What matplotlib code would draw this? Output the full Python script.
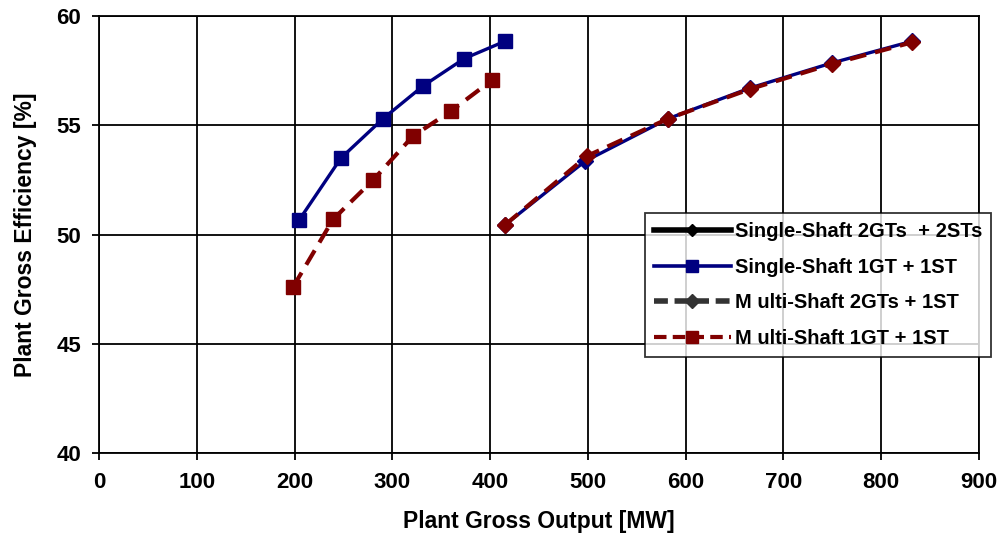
import matplotlib.pyplot as plt
from matplotlib.lines import Line2D
import numpy as np

plt.rcParams['font.family'] = ['Liberation Sans', 'DejaVu Sans']
plt.rcParams['font.weight'] = 'bold'

# plant output [MW] / gross efficiency [%]
ss_1gt_x = [204.5, 247.5, 290.5, 331.5, 373.5, 415.5]
ss_1gt_y = [50.65, 53.5, 55.3, 56.8, 58.05, 58.85]
ms_1gt_x = [198.5, 239.5, 280.5, 321.0, 360.0, 401.5]
ms_1gt_y = [47.6, 50.7, 52.5, 54.5, 55.65, 57.05]
ss_2gt_x = [415.5, 497.0, 582.0, 665.5, 749.5, 832.0]
ss_2gt_y = [50.45, 53.35, 55.3, 56.7, 57.85, 58.85]
ms_2gt_x = [415.5, 499.5, 582.0, 665.5, 749.5, 832.0]
ms_2gt_y = [50.45, 53.6, 55.3, 56.65, 57.8, 58.8]

labels = ['Single-Shaft 2GTs  + 2STs', 'Single-Shaft 1GT + 1ST',
          'M ulti-Shaft 2GTs + 1ST', 'M ulti-Shaft 1GT + 1ST']
xticks = np.arange(0, 901, 100)
yticks = np.arange(40, 61, 5)

navy = '#000080'
maroon = '#800000'

fig = plt.figure(figsize=(10.02, 5.33), dpi=100)
ax = fig.add_axes([0.0988, 0.150, 0.8782, 0.820])

ax.plot(ss_1gt_x, ss_1gt_y, color=navy, lw=2.4, marker='s', ms=9.4,
        mfc=navy, mec=navy, zorder=3)
ax.plot(ms_1gt_x, ms_1gt_y, color=maroon, lw=3.0, ls=(0, (4, 2.2)),
        marker='s', ms=9.4, mfc=maroon, mec=maroon, zorder=4)
ax.plot(ss_2gt_x, ss_2gt_y, color=navy, lw=2.4, marker='D', ms=8.6,
        mfc=navy, mec=navy, zorder=3)
ax.plot(ms_2gt_x, ms_2gt_y, color=maroon, lw=3.0, ls=(0, (4, 2.2)),
        marker='D', ms=8.2, mfc=maroon, mec=maroon, zorder=4)

ax.set_xlim(0, 900)
ax.set_ylim(40, 60)
ax.set_xticks(xticks)
ax.set_yticks(yticks)
ax.grid(True, color='black', lw=1.3)
ax.set_axisbelow(True)
for s in ax.spines.values():
    s.set_linewidth(1.3)
ax.tick_params(axis='both', length=5, width=1.3, labelsize=16)
ax.tick_params(axis='x', pad=9)
ax.tick_params(axis='y', pad=8)
ax.set_xlabel('Plant Gross Output [MW]', fontsize=16.5, fontweight='bold', labelpad=12)
ax.set_ylabel('Plant Gross Efficiency [%]', fontsize=16.5, fontweight='bold', labelpad=14)

handles = [
    Line2D([], [], color='black', lw=4, marker='D', ms=6, mfc='black', mec='black'),
    Line2D([], [], color=navy, lw=2.6, marker='s', ms=9, mfc=navy, mec=navy),
    Line2D([], [], color='#333333', lw=4, ls=(0, (2.5, 1.2)), marker='D', ms=7,
           mfc='#333333', mec='#333333'),
    Line2D([], [], color=maroon, lw=3, ls=(0, (3, 1.5)), marker='s', ms=9,
           mfc=maroon, mec=maroon),
]
leg = fig.legend(handles, labels, loc='upper left',
                 bbox_to_anchor=(0.6437, 0.6004), bbox_transform=fig.transFigure,
                 prop={'weight': 'bold', 'size': 14.5},
                 handlelength=3.8, handletextpad=0.2, labelspacing=0.82,
                 borderpad=0.45, borderaxespad=0, numpoints=1,
                 frameon=True, fancybox=False, edgecolor='black')
leg.get_frame().set_linewidth(1.3)

fig.savefig('out.png', dpi=100)
